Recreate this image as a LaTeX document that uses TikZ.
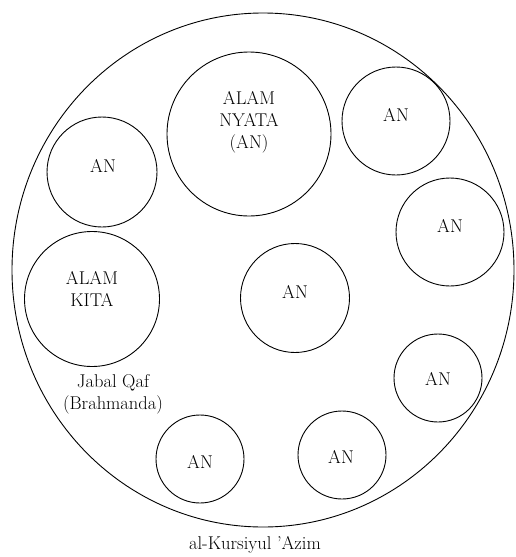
\documentclass[tikz,border=0pt]{standalone}
\usetikzlibrary{shapes.geometric}
\begin{document}
\begin{tikzpicture}[x=1pt,y=-1pt,
  world/.style={draw, circle, line width=0.9pt, inner sep=0pt},
  txt/.style={font=\fontsize{18.5}{22}\selectfont, align=center, inner sep=0pt}]
\useasboundingbox (0,0) rectangle (515,557);
% outer circle
\node[draw, ellipse, line width=0.9pt, minimum width=502, minimum height=514, inner sep=0pt] (outer) at (263,270) {};
% circles
\node[world, minimum size=164] (nyata) at (249,134) {};
\node[world, minimum size=108] (tr) at (396,121) {};
\node[world, minimum size=110] (left) at (102,172) {};
\node[world, minimum size=108] (right) at (450,232) {};
\node[world, minimum size=135] (kita) at (92,299) {};
\node[world, minimum size=109] (mid) at (295,298) {};
\node[world, minimum size=88] (lr) at (438,378) {};
\node[world, minimum size=88] (bl) at (200,459) {};
\node[world, minimum size=88] (bm) at (342,455) {};
% texts
\node[txt] (tnyata) at (249,122) {ALAM\\NYATA\\(AN)};
\node[txt] (ttr) at (396,115) {AN};
\node[txt] (tleft) at (103,166) {AN};
\node[txt] (tright) at (450,226) {AN};
\node[txt] (tkita) at (92,289) {ALAM\\KITA};
\node[txt] (tmid) at (295,292) {AN};
\node[txt] (tlr) at (438,379) {AN};
\node[txt] (tbl) at (200,462) {AN};
\node[txt] (tbm) at (341,457) {AN};
\node[txt] (jabal) at (113,394) {Jabal Qaf\\(Brahmanda)};
\node[txt] (kursi) at (255,545) {al-Kursiyul 'Azim};
\end{tikzpicture}
\end{document}
